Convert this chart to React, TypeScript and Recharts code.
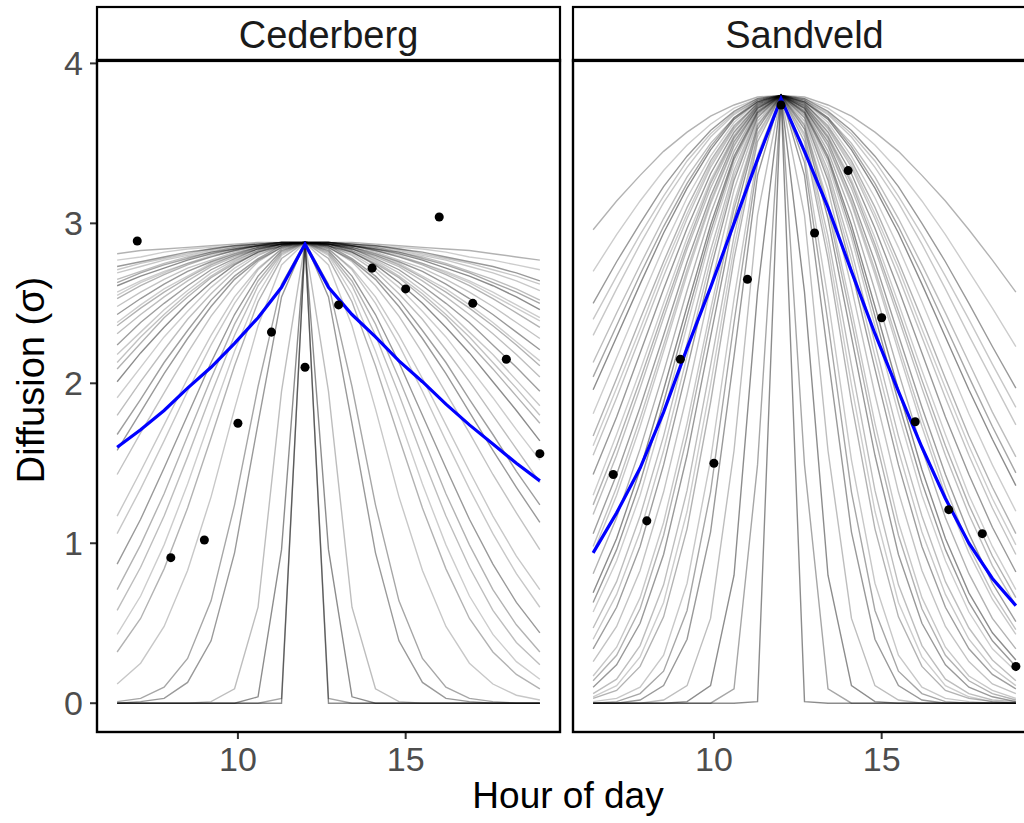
import React from 'react';
import { ComposedChart, Line, Scatter, XAxis, YAxis } from 'recharts';

// ---------- data ----------
const gridHours = [6.4, 7.1, 7.8, 8.5, 9.2, 9.9, 10.6, 11.3, 12, 12.7, 13.4, 14.1, 14.8, 15.5, 16.2, 16.9, 17.6, 18.3, 19];

const obsHours = [7, 8, 9, 10, 11, 12, 13, 14, 15, 16, 17, 18, 19];
const cederbergObs = [2.89, 0.91, 1.02, 1.75, 2.32, 2.1, 2.49, 2.72, 2.59, 3.04, 2.5, 2.15, 1.56];
const sandveldObs = [1.43, 1.14, 2.15, 1.5, 2.65, 3.74, 2.94, 3.33, 2.41, 1.76, 1.21, 1.06, 0.23];

const cederbergMean = [1.6, 1.71, 1.83, 1.97, 2.1, 2.25, 2.41, 2.6, 2.87, 2.6, 2.43, 2.29, 2.14, 2.01, 1.87, 1.74, 1.62, 1.5, 1.39];
const sandveldMean = [0.94, 1.19, 1.47, 1.82, 2.22, 2.6, 3.0, 3.4, 3.78, 3.45, 3.1, 2.7, 2.31, 1.95, 1.6, 1.28, 1.0, 0.78, 0.61];

const cederbergDraws = [
  [2.81, 2.83, 2.84, 2.85, 2.86, 2.87, 2.88, 2.88, 2.88, 2.88, 2.88, 2.87, 2.86, 2.85, 2.84, 2.83, 2.81, 2.79, 2.77],
  [2.77, 2.79, 2.82, 2.84, 2.85, 2.86, 2.87, 2.88, 2.88, 2.88, 2.87, 2.86, 2.85, 2.84, 2.82, 2.79, 2.77, 2.74, 2.71],
  [2.73, 2.76, 2.79, 2.82, 2.84, 2.86, 2.87, 2.88, 2.88, 2.88, 2.87, 2.86, 2.84, 2.82, 2.79, 2.76, 2.73, 2.69, 2.64],
  [2.69, 2.73, 2.77, 2.8, 2.83, 2.85, 2.87, 2.88, 2.88, 2.88, 2.87, 2.85, 2.83, 2.8, 2.77, 2.73, 2.69, 2.64, 2.58],
  [2.65, 2.7, 2.75, 2.79, 2.82, 2.85, 2.86, 2.88, 2.88, 2.88, 2.86, 2.85, 2.82, 2.79, 2.75, 2.7, 2.65, 2.59, 2.52],
  [2.61, 2.67, 2.72, 2.77, 2.81, 2.84, 2.86, 2.88, 2.88, 2.88, 2.86, 2.84, 2.81, 2.77, 2.72, 2.67, 2.61, 2.54, 2.46],
  [2.57, 2.64, 2.7, 2.75, 2.8, 2.83, 2.86, 2.87, 2.88, 2.87, 2.86, 2.83, 2.8, 2.75, 2.7, 2.64, 2.57, 2.49, 2.41],
  [2.53, 2.61, 2.68, 2.74, 2.79, 2.83, 2.86, 2.87, 2.88, 2.87, 2.86, 2.83, 2.79, 2.74, 2.68, 2.61, 2.53, 2.44, 2.35],
  [2.48, 2.57, 2.65, 2.72, 2.77, 2.82, 2.85, 2.87, 2.88, 2.87, 2.85, 2.82, 2.77, 2.72, 2.65, 2.57, 2.48, 2.38, 2.28],
  [2.43, 2.53, 2.62, 2.7, 2.76, 2.81, 2.85, 2.87, 2.88, 2.87, 2.85, 2.81, 2.76, 2.7, 2.62, 2.53, 2.43, 2.32, 2.21],
  [2.38, 2.49, 2.59, 2.67, 2.75, 2.8, 2.85, 2.87, 2.88, 2.87, 2.85, 2.8, 2.75, 2.67, 2.59, 2.49, 2.38, 2.26, 2.14],
  [2.31, 2.43, 2.54, 2.64, 2.73, 2.79, 2.84, 2.87, 2.88, 2.87, 2.84, 2.79, 2.73, 2.64, 2.54, 2.43, 2.31, 2.18, 2.04],
  [2.24, 2.38, 2.5, 2.61, 2.71, 2.78, 2.84, 2.87, 2.88, 2.87, 2.84, 2.78, 2.71, 2.61, 2.5, 2.38, 2.24, 2.1, 1.95],
  [2.18, 2.32, 2.46, 2.58, 2.69, 2.77, 2.83, 2.87, 2.88, 2.87, 2.83, 2.77, 2.69, 2.58, 2.46, 2.32, 2.18, 2.02, 1.86],
  [2.09, 2.25, 2.41, 2.54, 2.66, 2.75, 2.82, 2.87, 2.88, 2.87, 2.82, 2.75, 2.66, 2.54, 2.41, 2.25, 2.09, 1.92, 1.75],
  [2.01, 2.19, 2.35, 2.5, 2.63, 2.74, 2.82, 2.86, 2.88, 2.86, 2.82, 2.74, 2.63, 2.5, 2.35, 2.19, 2.01, 1.83, 1.64],
  [1.91, 2.1, 2.29, 2.45, 2.6, 2.72, 2.81, 2.86, 2.88, 2.86, 2.81, 2.72, 2.6, 2.45, 2.29, 2.1, 1.91, 1.71, 1.52],
  [1.8, 2.01, 2.21, 2.4, 2.56, 2.7, 2.8, 2.86, 2.88, 2.86, 2.8, 2.7, 2.56, 2.4, 2.21, 2.01, 1.8, 1.59, 1.38],
  [1.68, 1.9, 2.13, 2.33, 2.52, 2.67, 2.78, 2.86, 2.88, 2.86, 2.78, 2.67, 2.52, 2.33, 2.13, 1.9, 1.68, 1.45, 1.24],
  [1.43, 1.69, 1.94, 2.19, 2.42, 2.61, 2.76, 2.85, 2.88, 2.85, 2.76, 2.61, 2.42, 2.19, 1.94, 1.69, 1.43, 1.19, 0.96],
  [1.17, 1.45, 1.74, 2.03, 2.3, 2.54, 2.72, 2.84, 2.88, 2.84, 2.72, 2.54, 2.3, 2.03, 1.74, 1.45, 1.17, 0.92, 0.71],
  [0.87, 1.15, 1.47, 1.8, 2.13, 2.43, 2.67, 2.83, 2.88, 2.83, 2.67, 2.43, 2.13, 1.8, 1.47, 1.15, 0.87, 0.63, 0.44],
  [0.58, 0.85, 1.17, 1.54, 1.93, 2.3, 2.61, 2.81, 2.88, 2.81, 2.61, 2.3, 1.93, 1.54, 1.17, 0.85, 0.58, 0.38, 0.24],
  [0.32, 0.53, 0.84, 1.22, 1.66, 2.11, 2.51, 2.78, 2.88, 2.78, 2.51, 2.11, 1.66, 1.22, 0.84, 0.53, 0.32, 0.18, 0.09],
  [0.12, 0.25, 0.48, 0.83, 1.29, 1.84, 2.36, 2.74, 2.88, 2.74, 2.36, 1.84, 1.29, 0.83, 0.48, 0.25, 0.12, 0.05, 0.02],
  [0, 0.01, 0.03, 0.13, 0.39, 0.94, 1.75, 2.54, 2.88, 2.54, 1.75, 0.94, 0.39, 0.13, 0.03, 0.01, 0, 0, 0],
  [0, 0, 0, 0, 0.01, 0.09, 0.6, 1.95, 2.88, 1.95, 0.6, 0.09, 0.01, 0, 0, 0, 0, 0, 0],
  [0, 0, 0, 0, 0, 0, 0.04, 0.96, 2.88, 0.96, 0.04, 0, 0, 0, 0, 0, 0, 0, 0],
  [0, 0, 0, 0, 0, 0, 0, 0.03, 2.88, 0.03, 0, 0, 0, 0, 0, 0, 0, 0, 0],
  [0, 0, 0, 0, 0, 0, 0, 0, 2.88, 0, 0, 0, 0, 0, 0, 0, 0, 0, 0],
  [2.71, 2.75, 2.78, 2.81, 2.84, 2.86, 2.87, 2.88, 2.88, 2.88, 2.87, 2.86, 2.84, 2.81, 2.78, 2.75, 2.71, 2.67, 2.62],
  [2.63, 2.69, 2.74, 2.78, 2.82, 2.84, 2.86, 2.88, 2.88, 2.88, 2.86, 2.84, 2.82, 2.78, 2.74, 2.69, 2.63, 2.57, 2.5],
  [2.55, 2.63, 2.69, 2.75, 2.79, 2.83, 2.86, 2.87, 2.88, 2.87, 2.86, 2.83, 2.79, 2.75, 2.69, 2.63, 2.55, 2.47, 2.39],
  [2.36, 2.47, 2.57, 2.66, 2.74, 2.8, 2.84, 2.87, 2.88, 2.87, 2.84, 2.8, 2.74, 2.66, 2.57, 2.47, 2.36, 2.24, 2.11],
  [2.13, 2.29, 2.43, 2.56, 2.67, 2.76, 2.83, 2.87, 2.88, 2.87, 2.83, 2.76, 2.67, 2.56, 2.43, 2.29, 2.13, 1.97, 1.8],
  [1.58, 1.82, 2.06, 2.28, 2.48, 2.65, 2.77, 2.85, 2.88, 2.85, 2.77, 2.65, 2.48, 2.28, 2.06, 1.82, 1.58, 1.35, 1.13],
  [1.06, 1.34, 1.64, 1.95, 2.24, 2.5, 2.71, 2.84, 2.88, 2.84, 2.71, 2.5, 2.24, 1.95, 1.64, 1.34, 1.06, 0.81, 0.6],
  [0.71, 0.99, 1.31, 1.67, 2.03, 2.37, 2.64, 2.82, 2.88, 2.82, 2.64, 2.37, 2.03, 1.67, 1.31, 0.99, 0.71, 0.49, 0.32],
  [0.43, 0.67, 0.99, 1.37, 1.79, 2.2, 2.56, 2.8, 2.88, 2.8, 2.56, 2.2, 1.79, 1.37, 0.99, 0.67, 0.43, 0.26, 0.15],
  [0.01, 0.03, 0.1, 0.28, 0.64, 1.24, 1.98, 2.62, 2.88, 2.62, 1.98, 1.24, 0.64, 0.28, 0.1, 0.03, 0.01, 0, 0],
];

const sandveldDraws = [
  [2.96, 3.14, 3.3, 3.45, 3.57, 3.67, 3.74, 3.79, 3.8, 3.79, 3.74, 3.67, 3.57, 3.45, 3.3, 3.14, 2.96, 2.77, 2.57],
  [2.7, 2.93, 3.14, 3.33, 3.49, 3.62, 3.72, 3.78, 3.8, 3.78, 3.72, 3.62, 3.49, 3.33, 3.14, 2.93, 2.7, 2.47, 2.23],
  [2.5, 2.76, 3.0, 3.23, 3.42, 3.58, 3.7, 3.78, 3.8, 3.78, 3.7, 3.58, 3.42, 3.23, 3.0, 2.76, 2.5, 2.23, 1.97],
  [2.3, 2.59, 2.87, 3.13, 3.35, 3.54, 3.68, 3.77, 3.8, 3.77, 3.68, 3.54, 3.35, 3.13, 2.87, 2.59, 2.3, 2.02, 1.74],
  [2.13, 2.44, 2.74, 3.03, 3.29, 3.5, 3.66, 3.77, 3.8, 3.77, 3.66, 3.5, 3.29, 3.03, 2.74, 2.44, 2.13, 1.82, 1.54],
  [1.96, 2.29, 2.62, 2.94, 3.22, 3.46, 3.65, 3.76, 3.8, 3.76, 3.65, 3.46, 3.22, 2.94, 2.62, 2.29, 1.96, 1.65, 1.36],
  [1.81, 2.16, 2.51, 2.85, 3.16, 3.42, 3.63, 3.76, 3.8, 3.76, 3.63, 3.42, 3.16, 2.85, 2.51, 2.16, 1.81, 1.49, 1.2],
  [1.67, 2.03, 2.4, 2.76, 3.1, 3.39, 3.61, 3.75, 3.8, 3.75, 3.61, 3.39, 3.1, 2.76, 2.4, 2.03, 1.67, 1.35, 1.06],
  [1.55, 1.91, 2.29, 2.67, 3.03, 3.35, 3.59, 3.75, 3.8, 3.75, 3.59, 3.35, 3.03, 2.67, 2.29, 1.91, 1.55, 1.22, 0.93],
  [1.43, 1.79, 2.19, 2.59, 2.97, 3.31, 3.57, 3.74, 3.8, 3.74, 3.57, 3.31, 2.97, 2.59, 2.19, 1.79, 1.43, 1.1, 0.82],
  [1.3, 1.68, 2.08, 2.5, 2.91, 3.27, 3.55, 3.74, 3.8, 3.74, 3.55, 3.27, 2.91, 2.5, 2.08, 1.68, 1.3, 0.98, 0.71],
  [1.18, 1.55, 1.97, 2.41, 2.84, 3.22, 3.53, 3.73, 3.8, 3.73, 3.53, 3.22, 2.84, 2.41, 1.97, 1.55, 1.18, 0.86, 0.61],
  [1.06, 1.43, 1.85, 2.3, 2.76, 3.17, 3.51, 3.72, 3.8, 3.72, 3.51, 3.17, 2.76, 2.3, 1.85, 1.43, 1.06, 0.75, 0.51],
  [0.94, 1.3, 1.73, 2.2, 2.68, 3.12, 3.48, 3.72, 3.8, 3.72, 3.48, 3.12, 2.68, 2.2, 1.73, 1.3, 0.94, 0.65, 0.43],
  [0.81, 1.16, 1.59, 2.07, 2.58, 3.06, 3.45, 3.71, 3.8, 3.71, 3.45, 3.06, 2.58, 2.07, 1.59, 1.16, 0.81, 0.53, 0.34],
  [0.69, 1.03, 1.46, 1.96, 2.48, 2.99, 3.42, 3.7, 3.8, 3.7, 3.42, 2.99, 2.48, 1.96, 1.46, 1.03, 0.69, 0.44, 0.27],
  [0.57, 0.89, 1.3, 1.81, 2.36, 2.91, 3.37, 3.69, 3.8, 3.69, 3.37, 2.91, 2.36, 1.81, 1.3, 0.89, 0.57, 0.34, 0.2],
  [0.47, 0.76, 1.17, 1.67, 2.25, 2.83, 3.33, 3.68, 3.8, 3.68, 3.33, 2.83, 2.25, 1.67, 1.17, 0.76, 0.47, 0.27, 0.14],
  [0.34, 0.6, 0.98, 1.49, 2.09, 2.71, 3.27, 3.66, 3.8, 3.66, 3.27, 2.71, 2.09, 1.49, 0.98, 0.6, 0.34, 0.18, 0.09],
  [0.26, 0.48, 0.83, 1.32, 1.93, 2.6, 3.21, 3.64, 3.8, 3.64, 3.21, 2.6, 1.93, 1.32, 0.83, 0.48, 0.26, 0.12, 0.06],
  [0.17, 0.35, 0.66, 1.13, 1.75, 2.46, 3.13, 3.62, 3.8, 3.62, 3.13, 2.46, 1.75, 1.13, 0.66, 0.35, 0.17, 0.08, 0.03],
  [0.1, 0.24, 0.5, 0.93, 1.55, 2.29, 3.03, 3.59, 3.8, 3.59, 3.03, 2.29, 1.55, 0.93, 0.5, 0.24, 0.1, 0.04, 0.01],
  [0.06, 0.15, 0.36, 0.74, 1.33, 2.11, 2.92, 3.56, 3.8, 3.56, 2.92, 2.11, 1.33, 0.74, 0.36, 0.15, 0.06, 0.02, 0.01],
  [0.03, 0.08, 0.23, 0.54, 1.09, 1.88, 2.78, 3.51, 3.8, 3.51, 2.78, 1.88, 1.09, 0.54, 0.23, 0.08, 0.03, 0.01, 0],
  [0.01, 0.03, 0.1, 0.3, 0.75, 1.52, 2.53, 3.43, 3.8, 3.43, 2.53, 1.52, 0.75, 0.3, 0.1, 0.03, 0.01, 0, 0],
  [0, 0, 0.02, 0.11, 0.4, 1.07, 2.17, 3.3, 3.8, 3.3, 2.17, 1.07, 0.4, 0.11, 0.02, 0, 0, 0, 0],
  [0, 0, 0, 0.02, 0.11, 0.53, 1.58, 3.05, 3.8, 3.05, 1.58, 0.53, 0.11, 0.02, 0, 0, 0, 0, 0],
  [0, 0, 0, 0, 0.01, 0.11, 0.8, 2.57, 3.8, 2.57, 0.8, 0.11, 0.01, 0, 0, 0, 0, 0, 0],
  [0, 0, 0, 0, 0, 0, 0.09, 1.49, 3.8, 1.49, 0.09, 0, 0, 0, 0, 0, 0, 0, 0],
  [0, 0, 0, 0, 0, 0, 0, 0.01, 3.8, 0.01, 0, 0, 0, 0, 0, 0, 0, 0, 0],
  [2.4, 2.67, 2.93, 3.17, 3.39, 3.56, 3.69, 3.77, 3.8, 3.77, 3.69, 3.56, 3.39, 3.17, 2.93, 2.67, 2.4, 2.12, 1.85],
  [2.04, 2.36, 2.68, 2.98, 3.25, 3.48, 3.66, 3.76, 3.8, 3.76, 3.66, 3.48, 3.25, 2.98, 2.68, 2.36, 2.04, 1.73, 1.44],
  [1.61, 1.97, 2.34, 2.72, 3.06, 3.37, 3.6, 3.75, 3.8, 3.75, 3.6, 3.37, 3.06, 2.72, 2.34, 1.97, 1.61, 1.28, 0.99],
  [1.24, 1.61, 2.02, 2.45, 2.87, 3.25, 3.54, 3.73, 3.8, 3.73, 3.54, 3.25, 2.87, 2.45, 2.02, 1.61, 1.24, 0.92, 0.66],
  [0.98, 1.35, 1.78, 2.24, 2.71, 3.14, 3.49, 3.72, 3.8, 3.72, 3.49, 3.14, 2.71, 2.24, 1.78, 1.35, 0.98, 0.69, 0.46],
  [0.63, 0.96, 1.38, 1.88, 2.42, 2.95, 3.4, 3.69, 3.8, 3.69, 3.4, 2.95, 2.42, 1.88, 1.38, 0.96, 0.63, 0.39, 0.23],
  [0.4, 0.68, 1.07, 1.58, 2.17, 2.77, 3.3, 3.67, 3.8, 3.67, 3.3, 2.77, 2.17, 1.58, 1.07, 0.68, 0.4, 0.22, 0.11],
  [0.14, 0.3, 0.59, 1.05, 1.67, 2.39, 3.09, 3.61, 3.8, 3.61, 3.09, 2.39, 1.67, 1.05, 0.59, 0.3, 0.14, 0.06, 0.02],
  [0.04, 0.11, 0.29, 0.63, 1.2, 1.99, 2.85, 3.54, 3.8, 3.54, 2.85, 1.99, 1.2, 0.63, 0.29, 0.11, 0.04, 0.01, 0],
  [0, 0.01, 0.06, 0.2, 0.58, 1.32, 2.38, 3.38, 3.8, 3.38, 2.38, 1.32, 0.58, 0.2, 0.06, 0.01, 0, 0, 0],
];

const xTicks = [10, 15];
const yTicks = [0, 1, 2, 3, 4];
const panelNames = ['Cederberg', 'Sandveld'];

// ---------- styling ----------
const FONT = '"Liberation Sans", Arial, Helvetica, sans-serif';
const X_DOMAIN: [number, number] = [5.8, 19.6];
const Y_DOMAIN: [number, number] = [-0.18, 4.015];
const drawOpacity = [
  0.3, 0.2, 0.4, 0.22, 0.26, 0.45, 0.2, 0.3, 0.24, 0.4,
  0.2, 0.26, 0.38, 0.22, 0.3, 0.45, 0.2, 0.26, 0.38, 0.24,
  0.22, 0.4, 0.26, 0.3, 0.22, 0.4, 0.26, 0.45, 0.35, 0.45,
  0.22, 0.35, 0.2, 0.3, 0.24, 0.4, 0.22, 0.3, 0.2, 0.35,
];

const PLOT_TOP = 61;
const PLOT_H = 671;
const PLOT_W = 463;
const Y_AXIS_W = 97;
const PANEL2_LEFT = 573;

function Panel({ draws, mean, obs, showY }: { draws: number[][]; mean: number[]; obs: number[]; showY: boolean }) {
  const rows = gridHours.map((x, i) => {
    const r: Record<string, number> = { x, mean: mean[i] };
    draws.forEach((d, j) => {
      r['c' + j] = d[i];
    });
    return r;
  });
  const pts = obsHours.map((x, i) => ({ x, y: obs[i] }));
  const leftW = showY ? Y_AXIS_W : 0;
  return (
    <ComposedChart
      width={leftW + PLOT_W + 4}
      height={PLOT_TOP + PLOT_H + 60}
      data={rows}
      margin={{ top: PLOT_TOP, right: 4, bottom: 0, left: 0 }}
    >
      <XAxis
        type="number"
        dataKey="x"
        domain={X_DOMAIN}
        ticks={xTicks}
        allowDataOverflow
        axisLine={false}
        tickLine={{ stroke: '#333333', strokeWidth: 2 }}
        tickSize={7}
        tickMargin={8}
        height={60}
        tick={{ fontSize: 34, fill: '#4D4D4D', fontFamily: FONT }}
      />
      <YAxis
        type="number"
        domain={Y_DOMAIN}
        ticks={yTicks}
        allowDataOverflow
        hide={!showY}
        width={Y_AXIS_W}
        axisLine={false}
        tickLine={{ stroke: '#333333', strokeWidth: 2 }}
        tickSize={7}
        tickMargin={7}
        tick={{ fontSize: 34, fill: '#4D4D4D', fontFamily: FONT }}
      />
      {draws.map((_, j) => (
        <Line
          key={'c' + j}
          dataKey={'c' + j}
          type="linear"
          stroke="#000000"
          strokeOpacity={drawOpacity[j % drawOpacity.length]}
          strokeWidth={1.4}
          dot={false}
          activeDot={false}
          isAnimationActive={false}
        />
      ))}
      <Line dataKey="mean" type="linear" stroke="#0000FF" strokeWidth={3.2} dot={false} activeDot={false} isAnimationActive={false} />
      <Scatter data={pts} dataKey="y" fill="#000000" isAnimationActive={false} />
    </ComposedChart>
  );
}

export default function App() {
  const panelLefts = [Y_AXIS_W, PANEL2_LEFT];
  return (
    <div style={{ position: 'absolute', left: 0, top: 0, width: 1024, height: 823, overflow: 'hidden', background: '#fff' }}>
      <div style={{ position: 'absolute', left: 0, top: 0 }}>
        <Panel draws={cederbergDraws} mean={cederbergMean} obs={cederbergObs} showY={true} />
      </div>
      <div style={{ position: 'absolute', left: PANEL2_LEFT, top: 0 }}>
        <Panel draws={sandveldDraws} mean={sandveldMean} obs={sandveldObs} showY={false} />
      </div>
      <svg width={1024} height={823} style={{ position: 'absolute', left: 0, top: 0, pointerEvents: 'none' }}>
        {panelLefts.map((lx, i) => (
          <g key={i}>
            <rect x={lx} y={7} width={PLOT_W} height={PLOT_TOP - 7} fill="none" stroke="#000" strokeWidth={2.2} />
            <rect x={lx} y={PLOT_TOP - 1} width={PLOT_W} height={PLOT_H + 1} fill="none" stroke="#000" strokeWidth={2.4} />
            <text x={lx + PLOT_W / 2} y={35} textAnchor="middle" dominantBaseline="central" fontSize={38} fill="#1A1A1A" fontFamily={FONT}>
              {panelNames[i]}
            </text>
          </g>
        ))}
        <text x={568} y={808} textAnchor="middle" fontSize={37} fill="#000" fontFamily={FONT}>
          Hour of day
        </text>
        <text
          x={0}
          y={0}
          transform="translate(31 380) rotate(-90)"
          textAnchor="middle"
          dominantBaseline="central"
          fontSize={38}
          fill="#000"
          fontFamily={FONT}
        >
          Diffusion (σ)
        </text>
      </svg>
    </div>
  );
}
